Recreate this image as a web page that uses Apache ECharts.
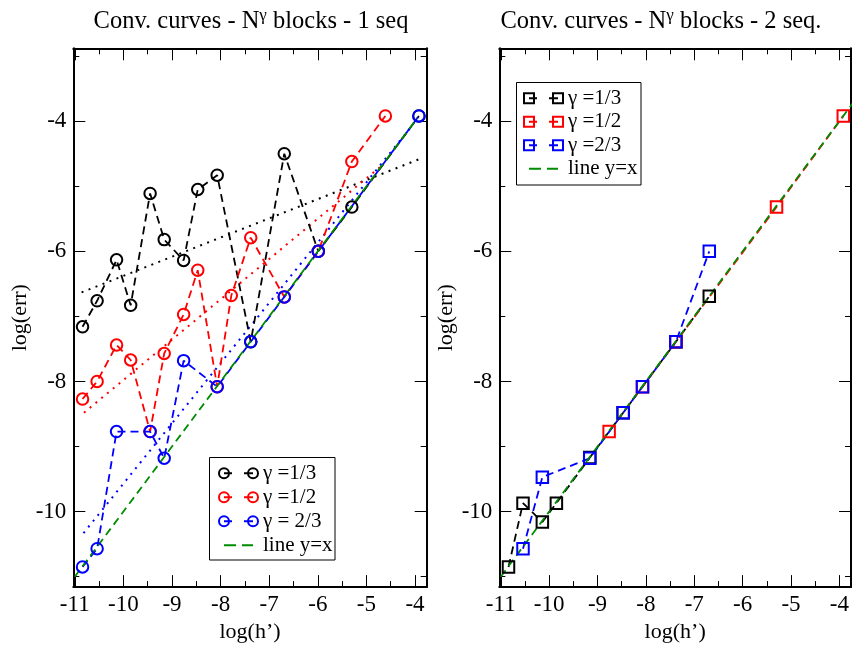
<!DOCTYPE html>
<html>
<head>
<meta charset="utf-8">
<script src="https://cdn.jsdelivr.net/npm/echarts@6/dist/echarts.min.js"></script>
<style>html,body{margin:0;padding:0;background:#fff;}#c{width:852px;height:648px;}</style>
</head>
<body>
<div id="c"></div>
<script>
// ---------- data ----------
// Left panel: 1 seq
var xL_g13 = [-10.84, -10.54, -10.14, -9.85, -9.45, -9.16, -8.76, -8.47, -8.07, -7.38, -6.69, -5.99, -5.30, -3.92];
var yL_g13 = [-7.16, -6.76, -6.13, -6.83, -5.11, -5.82, -6.14, -5.05, -4.83, -7.39, -4.50, -6.00, -5.32, -3.92];
var xL_g12 = [-10.84, -10.54, -10.14, -9.85, -9.45, -9.16, -8.76, -8.47, -8.07, -7.78, -7.38, -6.69, -5.99, -5.30, -4.61];
var yL_g12 = [-8.27, -8.00, -7.44, -7.67, -8.77, -7.57, -6.97, -6.29, -8.08, -6.68, -5.79, -6.70, -6.00, -4.62, -3.92];
var xL_g23 = [-10.84, -10.54, -10.14, -9.45, -9.16, -8.76, -8.07, -7.38, -6.69, -5.99, -3.92];
var yL_g23 = [-10.85, -10.57, -8.77, -8.77, -9.18, -7.68, -8.08, -7.39, -6.70, -6.00, -3.92];
var xL_fit13 = [-10.86, -3.90], yL_fit13 = [-6.63, -4.58];
var xL_fit12 = [-10.81, -4.68], yL_fit12 = [-8.48, -4.68];
var xL_fit23 = [-10.82, -4.04], yL_fit23 = [-10.33, -4.05];
var xL_line = [-11.0, -3.95], yL_line = [-11.0, -3.95];
// Right panel: 2 seq.
var xR_g13 = [-10.84, -10.54, -10.14, -9.85, -9.16, -8.47, -7.38, -6.69];
var yR_g13 = [-10.85, -9.87, -10.16, -9.87, -9.17, -8.48, -7.39, -6.69];
var xR_g12 = [-8.76, -8.07, -7.38, -5.30, -3.92];
var yR_g12 = [-8.77, -8.08, -7.39, -5.32, -3.92];
var xR_g23 = [-10.54, -10.14, -9.16, -8.47, -8.07, -7.38, -6.69];
var yR_g23 = [-10.57, -9.47, -9.18, -8.48, -8.08, -7.39, -6.00];
var xR_line = [-11.0, -3.6], yR_line = [-11.0, -3.6];
// axes
var X_MAJOR = [-11, -10, -9, -8, -7, -6, -5, -4];
var X_MINOR = [-10.5, -9.5, -8.5, -7.5, -6.5, -5.5, -4.5];
var Y_MAJOR = [-10, -8, -6, -4];
var Y_MINOR = [-11, -9, -7, -5, -3];
var titles = ['Conv. curves - N{s|\u03b3} blocks - 1 seq', 'Conv. curves - N{s|\u03b3} blocks - 2 seq.'];
var namesL = ['\u03b3 =1/3', '\u03b3 =1/2', '\u03b3 = 2/3', 'line y=x'];
var namesR = ['\u03b3 =1/3', '\u03b3 =1/2', '\u03b3 =2/3', 'line y=x'];
var xName = 'log(h\u2019)', yName = 'log(err)';

// ---------- styling ----------
var FONT = 'Liberation Serif';
var XMIN = -11.03, XMAX = -3.76, YMIN = -11.16, YMAX = -2.88;
var BLACK = '#000000', RED = '#ff0000', BLUE = '#0000ff', GREEN = '#008b00';
var GRIDS = [{left: 73.3, top: 48.3, width: 353.4, height: 545},
             {left: 499.3, top: 48.3, width: 353.4, height: 545}];

function pairs(xs, ys) { return xs.map(function (x, i) { return [x, ys[i]]; }); }

var xAxes = [], yAxes = [];
GRIDS.forEach(function (g, gi) {
  [['bottom', X_MAJOR, 12, true], ['bottom', X_MINOR, 6, false], ['top', X_MAJOR, 12, true], ['top', X_MINOR, 6, false]].forEach(function (d, k) {
    xAxes.push({
      type: 'value', gridIndex: gi, min: XMIN, max: XMAX, position: d[0],
      name: k === 0 ? xName : '', nameLocation: 'middle', nameGap: 27,
      nameTextStyle: {fontFamily: FONT, fontSize: 22, color: '#000'},
      splitLine: {show: false},
      axisLine: {show: d[3], onZero: false, lineStyle: {color: '#000', width: 2}},
      axisTick: {show: true, inside: true, length: d[2], customValues: d[1], lineStyle: {color: '#000', width: 1}},
      axisLabel: {show: k === 0, customValues: d[1], fontFamily: FONT, fontSize: 23, color: '#000', margin: 6}
    });
  });
  [['left', Y_MAJOR, 12, true], ['left', Y_MINOR, 6, false], ['right', Y_MAJOR, 12, true], ['right', Y_MINOR, 6, false]].forEach(function (d, k) {
    yAxes.push({
      type: 'value', gridIndex: gi, min: YMIN, max: YMAX, position: d[0],
      name: k === 0 ? yName : '', nameLocation: 'middle', nameGap: 42,
      nameTextStyle: {fontFamily: FONT, fontSize: 22, color: '#000'},
      splitLine: {show: false},
      axisLine: {show: d[3], onZero: false, lineStyle: {color: '#000', width: 2}},
      axisTick: {show: true, inside: true, length: d[2], customValues: d[1], lineStyle: {color: '#000', width: 1}},
      axisLabel: {show: k === 0, customValues: d[1], fontFamily: FONT, fontSize: 23, color: '#000', margin: 7}
    });
  });
});

function markerSeries(name, xs, ys, color, gi, symbol, size) {
  return {
    type: 'line', name: name, xAxisIndex: gi * 4, yAxisIndex: gi * 4,
    data: pairs(xs, ys), symbol: symbol, symbolSize: size, showSymbol: true,
    lineStyle: {color: color, width: 1.8, type: [8, 5]},
    itemStyle: {color: 'rgba(0,0,0,0)', borderColor: color, borderWidth: 2},
    emphasis: {disabled: true}, animation: false, clip: true
  };
}
function plainSeries(name, xs, ys, color, gi, dash, width) {
  return {
    type: 'line', name: name, xAxisIndex: gi * 4, yAxisIndex: gi * 4,
    data: pairs(xs, ys), symbol: 'none', showSymbol: false,
    lineStyle: {color: color, width: width, type: dash},
    itemStyle: {color: color},
    emphasis: {disabled: true}, animation: false, clip: true
  };
}

var series = [
  plainSeries('fit 1/3', xL_fit13, yL_fit13, BLACK, 0, [2, 5.5], 2),
  plainSeries('fit 1/2', xL_fit12, yL_fit12, RED, 0, [2, 5.5], 2),
  plainSeries('fit 2/3', xL_fit23, yL_fit23, BLUE, 0, [2, 5.5], 2),
  markerSeries(namesL[0], xL_g13, yL_g13, BLACK, 0, 'circle', 11.5),
  markerSeries(namesL[1], xL_g12, yL_g12, RED, 0, 'circle', 11.5),
  markerSeries(namesL[2], xL_g23, yL_g23, BLUE, 0, 'circle', 11.5),
  plainSeries(namesL[3], xL_line, yL_line, GREEN, 0, [8, 5], 1.8),
  markerSeries(namesR[0], xR_g13, yR_g13, BLACK, 1, 'rect', 11.5),
  markerSeries(namesR[1], xR_g12, yR_g12, RED, 1, 'rect', 11.5),
  markerSeries(namesR[2], xR_g23, yR_g23, BLUE, 1, 'rect', 11.5),
  plainSeries(namesR[3], xR_line, yR_line, GREEN, 1, [8, 5], 1.8)
];

var CIRC_ICON = 'path://M0,5 A5,5 0 1 1 10,5 A5,5 0 1 1 0,5 Z M5,5 L13,5 M25,5 L34,5 M29,5 A5,5 0 1 1 39,5 A5,5 0 1 1 29,5 Z';
var RECT_ICON = 'path://M0,0 L10,0 L10,10 L0,10 Z M5,5 L13,5 M25,5 L34,5 M29,0 L39,0 L39,10 L29,10 Z';
var DASH_ICON = 'path://M0,0 L0,0 M5,4 L17,4 L17,6 L5,6 Z M23,4 L34,4 L34,6 L23,6 Z M39,10 L39,10';

function legendData(names, icon) {
  var cols = [BLACK, RED, BLUE];
  var d = names.slice(0, 3).map(function (n, i) {
    return {name: n, icon: icon, itemStyle: {color: 'rgba(0,0,0,0)', borderColor: cols[i], borderWidth: 2}};
  });
  d.push({name: names[3], icon: DASH_ICON, itemStyle: {color: GREEN, borderWidth: 0}});
  return d;
}
function legend(left, top, names, icon, lh) {
  return {
    orient: 'vertical', left: left, top: top, padding: 0, itemGap: 0,
    itemWidth: 39, itemHeight: 10, selectedMode: false,
    textStyle: {fontFamily: FONT, fontSize: 21, color: '#000', lineHeight: lh},
    data: legendData(names, icon)
  };
}

var option = {
  backgroundColor: '#fff',
  animation: false,
  title: titles.map(function (t, i) {
    return {
      text: t, left: i === 0 ? 251 : 661, top: 7, textAlign: 'center', padding: 0,
      textStyle: {fontFamily: FONT, fontSize: 24.5, fontWeight: 'normal', color: '#000', lineHeight: 30,
        rich: {s: {fontFamily: FONT, fontSize: 17, lineHeight: 17, verticalAlign: 'top', color: '#000'}}}
    };
  }),
  grid: GRIDS,
  xAxis: xAxes,
  yAxis: yAxes,
  legend: [legend(218, 461.3, namesL, CIRC_ICON, 24), legend(523, 86.6, namesR, RECT_ICON, 23.5)],
  graphic: [
    {type: 'rect', shape: {x: 209.5, y: 457.5, width: 125.5, height: 102.5}, style: {fill: 'none', stroke: '#000', lineWidth: 1}, z: 1},
    {type: 'rect', shape: {x: 516.5, y: 82.5, width: 124.5, height: 102.5}, style: {fill: 'none', stroke: '#000', lineWidth: 1}, z: 1}
  ],
  series: series
};
var chart = echarts.init(document.getElementById('c'), null, {renderer: 'canvas'});
chart.setOption(option);
</script>
</body>
</html>
